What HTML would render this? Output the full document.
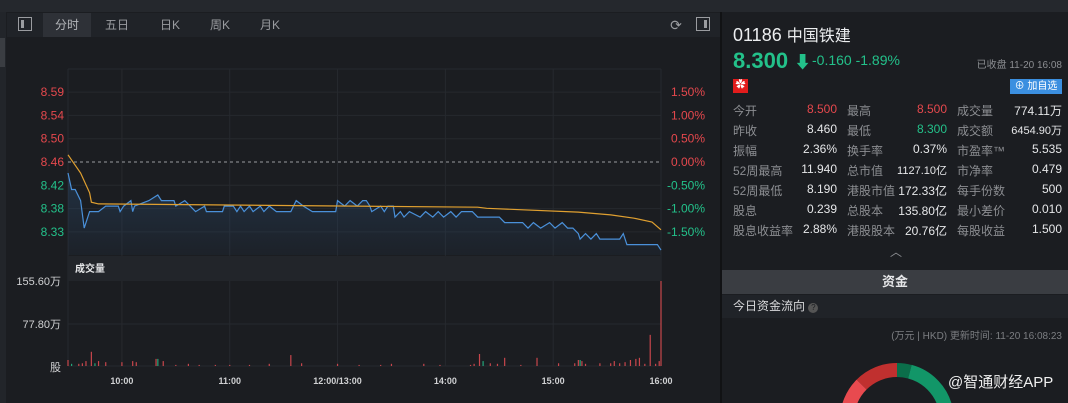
<!DOCTYPE html>
<html><head><meta charset="utf-8">
<style>
*{margin:0;padding:0;box-sizing:border-box}
body{width:1068px;height:403px;background:#1b1d21;overflow:hidden;position:relative;font-family:"Liberation Sans","Noto Sans CJK SC",sans-serif;color:#c8c9cc}
.abs{position:absolute}
.tab{position:absolute;top:13px;height:24px;line-height:24px;font-size:12px;color:#9a9ca0;text-align:center}
.row{position:absolute;left:733px;width:330px;height:20px;font-size:12px}
.row span{position:absolute;top:0}
.l{color:#8c8e92}.v{color:#e6e7e9;text-align:right}
.red{color:#e5484d}.grn{color:#23c18a}
</style></head><body>
<div class="abs" style="left:0;top:0;width:1068px;height:12px;background:#25282d"></div>
<div class="abs" style="left:0;top:12px;width:6px;height:391px;background:#22252a"></div>
<div class="abs" style="left:0;top:38px;width:5px;height:29px;background:#3a3d42"></div>
<div class="abs" style="left:7px;top:13px;width:713px;height:24px;background:#202328"></div>
<div class="abs" style="left:18px;top:17px;width:14px;height:14px;border:1px solid #9a9ca0"><div style="position:absolute;left:2px;top:2px;width:3px;height:8px;background:#9a9ca0"></div></div>
<div class="tab" style="left:43px;width:48px;background:#2e3137;color:#b4b6ba">分时</div>
<div class="tab" style="left:95px;width:44px">五日</div>
<div class="tab" style="left:148px;width:44px">日K</div>
<div class="tab" style="left:198px;width:44px">周K</div>
<div class="tab" style="left:248px;width:44px">月K</div>
<div class="tab" style="left:668px;width:16px;font-size:14px">⟳</div>
<div class="abs" style="left:696px;top:17px;width:14px;height:14px;border:1px solid #9a9ca0"><div style="position:absolute;right:2px;top:2px;width:3px;height:8px;background:#9a9ca0"></div></div>
<div class="abs" style="left:720px;top:12px;width:2px;height:391px;background:#111214"></div>

<svg class="abs" style="left:0;top:0" width="720" height="403" id="chart"></svg>

<div class="abs" style="left:733px;top:22px;font-size:18px;color:#eceef0">01186 <span style="font-size:16px">中国铁建</span></div>
<div class="abs grn" style="left:733px;top:48px;font-size:22px;font-weight:bold">8.300 <span style="font-size:17px">⬇</span></div>
<div class="abs grn" style="left:812px;top:52px;font-size:14px">-0.160 -1.89%</div>
<div class="abs" style="right:6px;top:56px;font-size:10px;color:#8c8e92">已收盘 11-20 16:08</div>
<div class="abs" style="left:733px;top:79px;width:15px;height:14px;background:#e21c1c;color:#fff;font-size:10px;text-align:center;line-height:14px">✿</div>
<div class="abs" style="left:1010px;top:79px;width:52px;height:15px;background:#3b8fe0;color:#fff;font-size:10px;line-height:15px;text-align:center">⊕ 加自选</div>

<div id="tbl"></div>
<div class="abs" style="left:890px;top:243px;font-size:12px;color:#8c8e92">︿</div>
<div class="abs" style="left:722px;top:270px;width:346px;height:24px;background:#3a3d42;color:#e6e7e9;font-size:13px;font-weight:bold;text-align:center;line-height:24px">资金</div>
<div class="abs" style="left:722px;top:295px;width:346px;height:23px;background:#202328;font-size:12px;color:#d8d9db;line-height:23px;padding-left:11px">今日资金流向 <span style="display:inline-block;width:10px;height:10px;border-radius:5px;background:#555;color:#1b1d21;font-size:8px;line-height:10px;text-align:center">?</span></div>
<div class="abs" style="right:6px;top:327px;font-size:10px;color:#7c7e82">(万元 | HKD) 更新时间: 11-20 16:08:23</div>
<svg class="abs" style="left:722px;top:318px" width="346" height="85">
<g transform="translate(175,102)" fill="none" stroke-width="14">
<path d="M0,-50 A50,50 0 0 1 12.9,-48.3" stroke="#0b6e4a"/>
<path d="M12.9,-48.3 A50,50 0 0 1 48.3,-12.9" stroke="#129668"/>
<path d="M-35.4,-35.4 A50,50 0 0 1 0,-50" stroke="#c0302f"/>
<path d="M-50,0 A50,50 0 0 1 -35.4,-35.4" stroke="#e84a4f"/>
</g></svg>
<div class="abs" style="left:948px;top:371px;font-size:15px;color:#f0f0f0">@智通财经APP</div>

<script>
const rows=[["今开","8.500","red","最高","8.500","red","成交量","774.11万",""],
["昨收","8.460","","最低","8.300","grn","成交额","6454.90万",""],
["振幅","2.36%","","换手率","0.37%","","市盈率™","5.535",""],
["52周最高","11.940","","总市值","1127.10亿","","市净率","0.479",""],
["52周最低","8.190","","港股市值","172.33亿","","每手份数","500",""],
["股息","0.239","","总股本","135.80亿","","最小差价","0.010",""],
["股息收益率","2.88%","","港股股本","20.76亿","","每股收益","1.500",""]];
const tbl=document.getElementById('tbl');
rows.forEach((r,i)=>{const d=document.createElement('div');d.className='row';d.style.top=(102+i*20)+'px';


const small=s=>s.length>7?'font-size:11px;':'';
d.innerHTML=`<span class="l" style="left:0">${r[0]}</span><span class="v ${r[2]}" style="right:226px;${small(r[1])}">${r[1]}</span><span class="l" style="left:114px">${r[3]}</span><span class="v ${r[5]}" style="right:116px;${small(r[4])}">${r[4]}</span><span class="l" style="left:224px">${r[6]}</span><span class="v ${r[8]}" style="right:1px;${small(r[7])}">${r[7]}</span>`;
tbl.appendChild(d);});
</script>
<script>
// data
const priceMin=[0,2,4,7,9,12,14,17,21,28,29,31,35,36,37,45,50,52,59,60,65,71,76,77,86,87,92,94,96,98,101,103,107,109,112,116,124,127,131,136,149,150,154,157,161,164,166,168,169,174,176,178,181,182,185,187,190,196,199,203,206,209,213,216,219,225,228,240,243,253,256,259,263,268,271,275,278,281,284,285,288,291,294,296,302,307,309,311,328,330];
const priceVal=[8.44,8.41,8.41,8.39,8.34,8.37,8.37,8.37,8.38,8.38,8.37,8.38,8.39,8.37,8.38,8.39,8.40,8.39,8.39,8.38,8.39,8.37,8.38,8.37,8.37,8.38,8.38,8.37,8.38,8.37,8.38,8.37,8.38,8.37,8.38,8.37,8.37,8.39,8.38,8.37,8.37,8.39,8.38,8.39,8.38,8.39,8.39,8.38,8.37,8.38,8.37,8.38,8.38,8.36,8.37,8.36,8.37,8.36,8.37,8.36,8.37,8.36,8.37,8.36,8.37,8.37,8.36,8.36,8.35,8.35,8.34,8.35,8.34,8.35,8.34,8.35,8.34,8.34,8.33,8.32,8.33,8.32,8.33,8.32,8.32,8.32,8.33,8.31,8.31,8.30];
const avgMin=[0,7,12,13,17,228,233,284,302,315,325,330];
const avgVal=[8.473,8.44,8.404,8.387,8.384,8.378,8.376,8.369,8.364,8.358,8.351,8.337];
const volMin=[0,2,6,8,10,13,15,17,21,30,36,38,49,50,53,60,67,73,82,90,101,112,124,130,150,162,174,180,198,207,224,226,229,231,235,239,243,252,261,273,282,284,285,286,288,296,302,304,307,310,313,316,318,321,324,327,329,330];
const volVal=[11,4,4,5,9,26,5,9,7,7,9,7,13,13,9,2,4,2,2,2,2,4,20,5,4,2,2,4,4,2,2,4,22,9,5,4,15,2,15,5,5,11,11,9,4,5,5,9,5,7,11,13,15,4,57,4,9,155.6];
const volUp=[1,0,1,1,1,1,0,1,1,1,1,1,1,0,1,1,1,1,1,1,1,1,1,1,1,1,1,1,1,1,1,1,1,0,1,1,1,1,1,1,1,1,0,1,1,1,1,1,1,1,1,1,1,1,1,1,1,1];
const priceTicks=["8.59","8.54","8.50","8.46","8.42","8.38","8.33"];
const pctTicks=["1.50%","1.00%","0.50%","0.00%","-0.50%","-1.00%","-1.50%"];
const timeLabels=["10:00","11:00","12:00/13:00","14:00","15:00","16:00"];
const timeMins=[30,90,150,210,270,330];
const prevClose=8.46, volMax=155.6;

const X0=68,X1=661,TOT=330;
const x=m=>X0+m/TOT*(X1-X0);
const yP=p=>162-(p-prevClose)/prevClose/0.005*23.3;
const yV=v=>366-v/volMax*85;
const svg=document.getElementById('chart');
const NS='http://www.w3.org/2000/svg';
function mk(t,a,name){const e=document.createElementNS(NS,t);for(const k in a)e.setAttribute(k,a[k]);


svg.appendChild(e);return e;}
const GC='#26292e';
mk('line',{x1:X0,x2:X1,y1:69,y2:69,stroke:GC},'grid-top');
pctTicks.forEach((t,i)=>{const y=162-(3-i)*23.3;
 if(i!==3)mk('line',{x1:X0,x2:X1,y1:y,y2:y,stroke:GC},'grid-h');
 const col=i<4?'#e5484d':'#23c18a';
 const a=mk('text',{x:64,y:y+4,'text-anchor':'end',fill:col,'font-size':12},'price-tick');a.textContent=priceTicks[i];
 const b=mk('text',{x:705,y:y+4,'text-anchor':'end',fill:col,'font-size':12},'pct-tick');b.textContent=t;});
timeMins.forEach((m,i)=>{mk('line',{x1:x(m),x2:x(m),y1:69,y2:366,stroke:GC},'grid-v');
 const t=mk('text',{x:x(m),y:384,'text-anchor':'middle',fill:'#d0d1d3','font-size':9,'font-weight':'bold'},'time-label');t.textContent=timeLabels[i];});
mk('line',{x1:X0,x2:X0,y1:69,y2:366,stroke:GC},'grid-left');
mk('line',{x1:X0,x2:X1,y1:162,y2:162,stroke:'#9a9ca0','stroke-dasharray':'3,3'},'prev-close-line');
let pts=[];priceMin.forEach((m,i)=>pts.push(x(m).toFixed(1)+','+yP(priceVal[i]).toFixed(1)));
const defs=mk('defs',{},'defs');defs.innerHTML='<linearGradient id="g" x1="0" y1="0" x2="0" y2="1"><stop offset="0" stop-color="#2a4a6e" stop-opacity="0.45"/><stop offset="1" stop-color="#2a4a6e" stop-opacity="0.1"/></linearGradient>';
mk('polygon',{points:pts.join(' ')+` ${x(TOT)},255 ${x(0)},255`,fill:'url(#g)'},'price-area');
mk('polyline',{points:pts.join(' '),fill:'none',stroke:'#4a90d9','stroke-width':1.2},'price-line');
let ap=avgMin.map((m,i)=>x(m).toFixed(1)+','+yP(avgVal[i]).toFixed(1));
mk('polyline',{points:ap.join(' '),fill:'none',stroke:'#e0a030','stroke-width':1.2},'avg-price-line');
mk('rect',{x:X0,y:256,width:X1-X0,height:25,fill:'#22252a'},'volume-header');
const vh=mk('text',{x:75,y:272,fill:'#e6e7e9','font-size':10,'font-weight':'bold'},'volume-title');vh.textContent='成交量';
mk('line',{x1:X0,x2:X1,y1:324,y2:324,stroke:GC},'grid-vol');
[['155.60万',285],['77.80万',328],['股',371]].forEach(a=>{const t=mk('text',{x:61,y:a[1],'text-anchor':'end',fill:'#d0d1d3','font-size':11},'volume-tick');t.textContent=a[0];});
mk('line',{x1:X0,x2:X1,y1:366,y2:366,stroke:GC},'volume-baseline');
volMin.forEach((m,i)=>{const y=yV(volVal[i]);mk('rect',{x:x(m)-0.6,y:y,width:1.2,height:366-y,fill:volUp[i]?'#c8464c':'#23a67a'},'volume-bar');});
</script>
</body></html>
